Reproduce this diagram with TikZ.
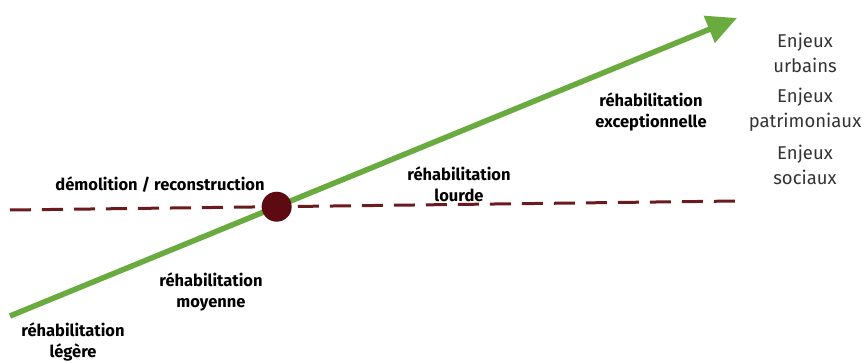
\documentclass[tikz,border=0pt]{standalone}
\usepackage{fontspec}
\setmainfont{Fira Sans}
\usetikzlibrary{arrows.meta,positioning}
\definecolor{axegreen}{HTML}{6AAB3F}
\definecolor{seuilred}{HTML}{6B1A1E}
\definecolor{pointred}{HTML}{5E0A12}
\definecolor{enjeuxgray}{HTML}{333333}

\begin{document}
\begin{tikzpicture}[x=1pt,y=-1pt,
    label/.style={align=center,font=\fontsize{16.5}{21}\selectfont\bfseries,text=black,inner sep=0pt},
    enjeux/.style={align=center,font=\fontsize{18.5}{25}\selectfont,text=enjeuxgray,inner sep=0pt}]
    \useasboundingbox (0,0) rectangle (867,363);
    % axes
    \coordinate (D0) at (10,316);
    \coordinate (D1) at (737,18);
    \coordinate (S0) at (10,210);
    \coordinate (S1) at (737,201);
    \draw[seuilred,line width=3pt,dash pattern=on 21pt off 11pt] (S0) -- (S1);
    \draw[axegreen,line width=5.5pt,-{Triangle[length=30pt,width=28pt]}] (D0) -- (D1);
    \node[circle,fill=pointred,minimum size=30pt,inner sep=0pt] (X) at (intersection of D0--D1 and S0--S1) {};
    % labels
    \node[label] (demol) at (160,185) {démolition / reconstruction};
    \node[label] (moy) at (211,292) {réhabilitation\\moyenne};
    \node[label] (leg) at (73,342) {réhabilitation\\légère};
    \node[label] (lourd) at (459,184) {réhabilitation\\lourde};
    \node[label] (excep) at (651,112) {réhabilitation\\exceptionnelle};
    % enjeux
    \node[enjeux] (urb) at (805,53) {Enjeux\\urbains};
    \node[enjeux] (pat) at (805,110) {Enjeux\\patrimoniaux};
    \node[enjeux] (soc) at (805,165) {Enjeux\\sociaux};
\end{tikzpicture}
\end{document}
